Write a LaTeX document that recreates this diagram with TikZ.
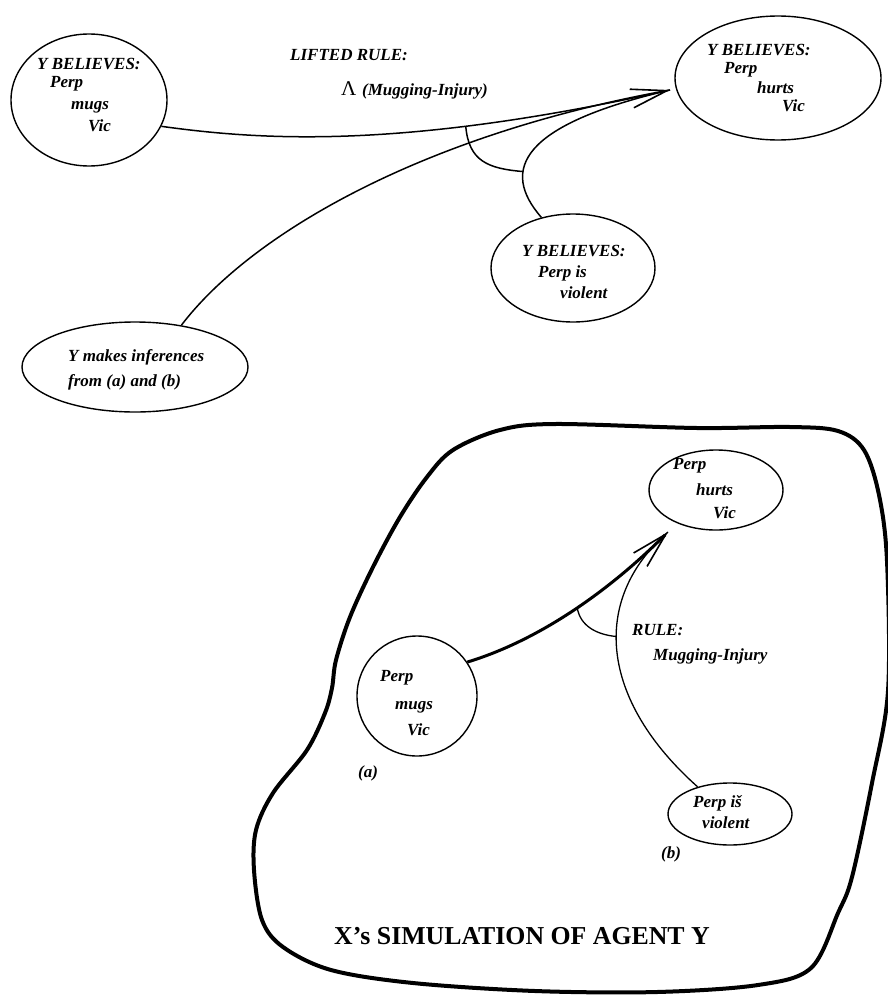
\documentclass[tikz,border=0pt]{standalone}
\usepackage{fontspec}
\setmainfont{Liberation Serif}
\usetikzlibrary{shapes.geometric,arrows.meta,calc}
\begin{document}
\begin{tikzpicture}[x=1pt,y=-1pt,
  lbl/.style={font=\fontsize{17}{20}\selectfont\bfseries\itshape, anchor=base west, inner sep=0pt},
  oval/.style={draw, ellipse, line width=1.4pt, inner sep=0pt},
  link/.style={line width=1.5pt},
  barb/.style={-{Straight Barb[length=36pt,width=19pt,line width=1.6pt]}},
]
\useasboundingbox (0,0) rectangle (888,1001);

% ---------- upper part ----------
\node[oval, minimum width=156pt, minimum height=132pt] (tl) at (89,100) {};
\node[oval, minimum width=206pt, minimum height=124pt] (tr) at (778,78) {};
\node[oval, minimum width=164pt, minimum height=108pt] (mid) at (573,268) {};
\node[oval, minimum width=226pt, minimum height=90pt] (inf) at (135,367) {};

\node[lbl] (t1a) at (37,69) {Y BELIEVES:};
\node[lbl] (t1b) at (50,87) {Perp};
\node[lbl] (t1c) at (71,109) {mugs};
\node[lbl] (t1d) at (88,131) {Vic};

\node[lbl] (lr) at (290,60) {LIFTED RULE:};
\node[anchor=base west, inner sep=0pt, font=\fontsize{21}{24}\selectfont] (lam) at (341,95) {Λ};
\node[lbl] (lrm) at (362,95) {(Mugging-Injury)};

\node[lbl] (t2a) at (707,55) {Y BELIEVES:};
\node[lbl] (t2b) at (724,73) {Perp};
\node[lbl] (t2c) at (757,93) {hurts};
\node[lbl] (t2d) at (782,111) {Vic};

\node[lbl] (t3a) at (522,256) {Y BELIEVES:};
\node[lbl] (t3b) at (538,277) {Perp is};
\node[lbl] (t3c) at (560,298) {violent};

\node[lbl] (t4a) at (68,361) {Y makes inferences};
\node[lbl] (t4b) at (68,386) {from (a) and (b)};

\coordinate (tipT) at (670,90);
\draw[link, barb] (tl.-20) .. controls (260,140) and (400,150) .. (tipT) coordinate[pos=0.71] (j1);
\draw[link] (inf.42) .. controls (250,235) and (420,135) .. (tipT);
\draw[link] (mid.122) .. controls (500,170) and (520,125) .. (tipT) coordinate[pos=0.33] (j2);
\draw[link] (j1) .. controls ($(j1)+(3,35)$) and ($(j2)+(-35,-3)$) .. (j2);

% ---------- lower part ----------
\draw[line width=4pt, line join=round] plot[smooth cycle, tension=0.55] coordinates {
  (453,450) (500,430) (555,424) (697,428) (790,427) (838,431) (864,450) (879,495) (887,561)
  (888,691) (872,783) (852,877) (838,913) (811,968) (758,985) (657,992) (535,991)
  (413,983) (331,970) (283,947) (262,920) (254,870) (256,830) (273,793) (307,750)
  (325,713) (332,688) (336,660) (350,617) (373,567) (400,517) (427,477)};

\node[oval, minimum width=134pt, minimum height=80pt] (bh) at (716,490) {};
\node[oval, minimum width=120pt, minimum height=120pt] (bm) at (417,696) {};
\node[oval, minimum width=124pt, minimum height=62pt] (bv) at (730,814) {};

\node[lbl] (b1a) at (673,469) {Perp};
\node[lbl] (b1b) at (696,495) {hurts};
\node[lbl] (b1c) at (713,518) {Vic};

\node[lbl] (b2a) at (380,681) {Perp};
\node[lbl] (b2b) at (395,709) {mugs};
\node[lbl] (b2c) at (407,735) {Vic};
\node[lbl] (ba) at (358,777) {(a)};

\node[lbl] (b3a) at (693,807) {Perp iš};
\node[lbl] (b3b) at (702,828) {violent};
\node[lbl] (bb) at (661,858) {(b)};

\node[lbl] (rl) at (632,635) {RULE:};
\node[lbl] (rm) at (653,660) {Mugging-Injury};

\coordinate (tipB) at (668,532);
\draw[line width=3pt, barb] (bm.34) .. controls (540,640) and (610,590) .. (tipB) coordinate[pos=0.52] (jb1);
\draw[line width=1.3pt] (bv.140) .. controls (600,700) and (590,600) .. (tipB) coordinate[pos=0.56] (jb2);
\draw[line width=1.3pt] (jb1) .. controls ($(jb1)+(3,18)$) and ($(jb2)+(-20,-2)$) .. (jb2);

\node[anchor=base west, inner sep=0pt, font=\fontsize{25.8}{30}\selectfont\bfseries] (title) at (334,944) {X’s SIMULATION OF AGENT Y};
\end{tikzpicture}
\end{document}
